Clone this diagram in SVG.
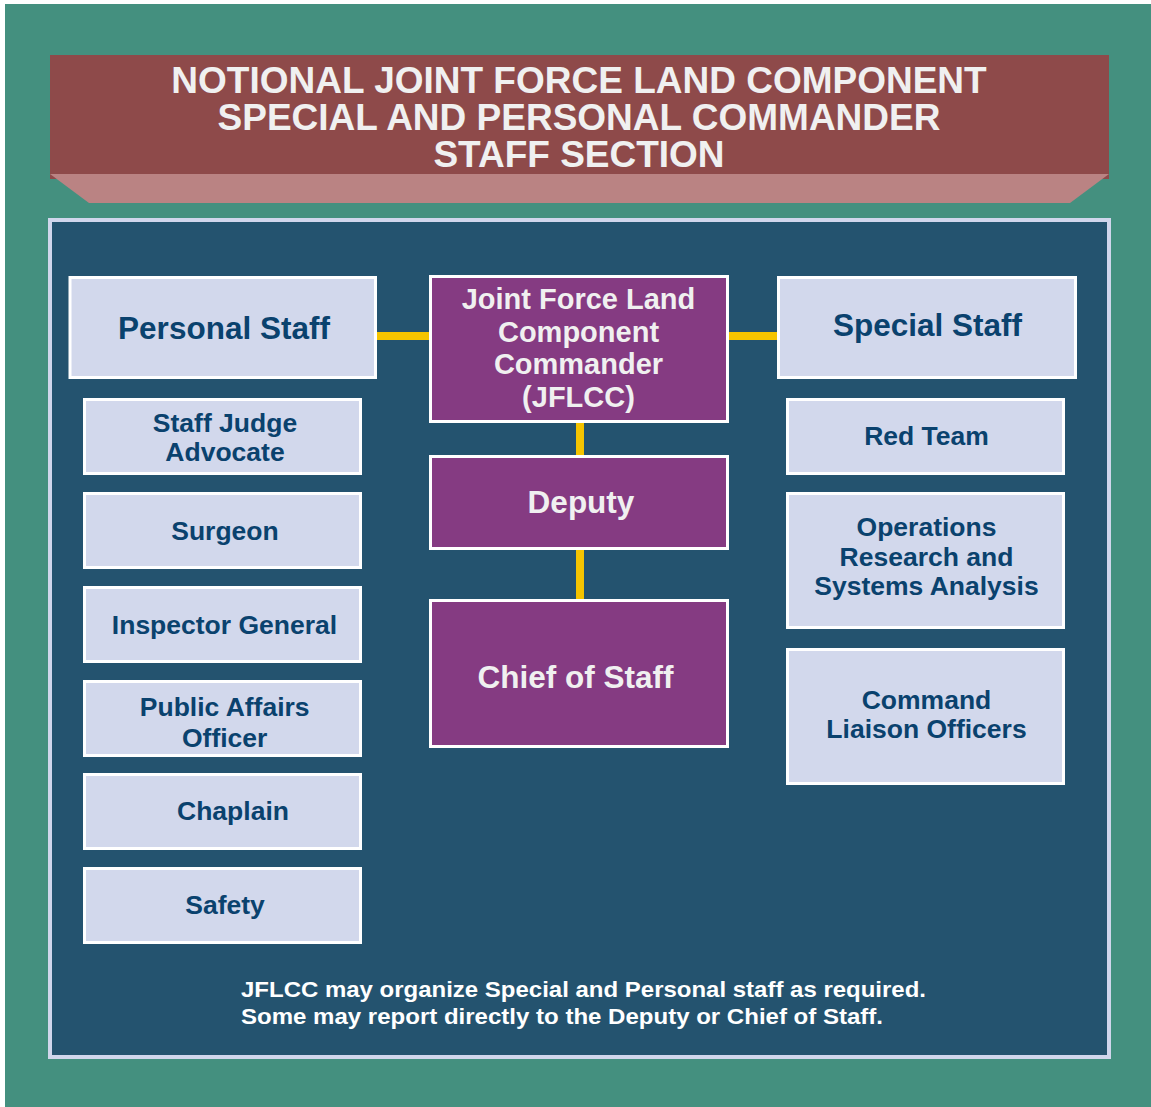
<svg xmlns="http://www.w3.org/2000/svg" width="1151" height="1107" viewBox="0 0 1151 1107">
  <style>
    .lt { fill: #D2D8EC; stroke: #FFFFFF; stroke-width: 3; }
    .pu { fill: #853B82; stroke: #FFFFFF; stroke-width: 3; }
    .nt { font-family: "Liberation Sans", Arial, sans-serif; font-weight: bold; fill: #0A426E; text-anchor: middle; }
    .wt { font-family: "Liberation Sans", Arial, sans-serif; font-weight: bold; fill: #F0F0F0; text-anchor: middle; }
    .s26 { font-size: 26.5px; }
    .s31 { font-size: 31.5px; }
    .s29 { font-size: 29px; }
    .conn { stroke: #F5C400; stroke-width: 8; fill: none; }
  </style>
  <rect x="0" y="0" width="1151" height="1107" fill="#FFFFFF"/>
  <rect x="5" y="4" width="1146" height="1103" fill="#44907F"/>

  <g id="title">
    <rect x="50" y="55" width="1059" height="124" fill="#8E4A4A"/>
    <polygon points="50,174 1109,174 1070,203 89,203" fill="#BA8383"/>
    <text class="wt" x="579" y="93" font-size="37" fill="#EEEEEE">NOTIONAL JOINT FORCE LAND COMPONENT</text>
    <text class="wt" x="579" y="130" font-size="37" fill="#EEEEEE">SPECIAL AND PERSONAL COMMANDER</text>
    <text class="wt" x="579" y="167" font-size="37" fill="#EEEEEE">STAFF SECTION</text>
  </g>

  <rect x="50" y="220" width="1059" height="837" fill="#24536F" stroke="#D0D6EC" stroke-width="4"/>

  <g id="connectors">
    <line class="conn" x1="377" y1="336" x2="430" y2="336"/>
    <line class="conn" x1="728" y1="336" x2="778" y2="336"/>
    <line class="conn" x1="580" y1="422" x2="580" y2="456"/>
    <line class="conn" x1="580" y1="549" x2="580" y2="600"/>
  </g>

  <g id="personal-staff">
    <rect class="lt" x="70" y="277.5" width="305.5" height="100"/>
    <text class="nt s31" x="224" y="339">Personal Staff</text>
  </g>
  <g id="jflcc">
    <rect class="pu" x="430.5" y="276.5" width="297" height="145"/>
    <text class="wt s29" x="578.5" y="308.5">Joint Force Land</text>
    <text class="wt s29" x="578.5" y="341.5">Component</text>
    <text class="wt s29" x="578.5" y="374">Commander</text>
    <text class="wt s29" x="578.5" y="406.5">(JFLCC)</text>
  </g>
  <g id="special-staff">
    <rect class="lt" x="778.5" y="277.5" width="297" height="100"/>
    <text class="nt s31" x="927.5" y="336">Special Staff</text>
  </g>
  <g id="deputy">
    <rect class="pu" x="430.5" y="456.5" width="297" height="92"/>
    <text class="wt s31" x="581" y="512.5">Deputy</text>
  </g>
  <g id="chief-of-staff">
    <rect class="pu" x="430.5" y="600.5" width="297" height="146"/>
    <text class="wt s31" x="575.5" y="687.5">Chief of Staff</text>
  </g>

  <g id="staff-judge-advocate">
    <rect class="lt" x="84.5" y="399.5" width="276" height="74"/>
    <text class="nt s26" x="225" y="431.5">Staff Judge</text>
    <text class="nt s26" x="225" y="461">Advocate</text>
  </g>
  <g id="surgeon">
    <rect class="lt" x="84.5" y="493.5" width="276" height="74"/>
    <text class="nt s26" x="225" y="539.5">Surgeon</text>
  </g>
  <g id="inspector-general">
    <rect class="lt" x="84.5" y="587.5" width="276" height="74"/>
    <text class="nt s26" x="224.5" y="633.5">Inspector General</text>
  </g>
  <g id="public-affairs-officer">
    <rect class="lt" x="84.5" y="681.5" width="276" height="74"/>
    <text class="nt s26" x="224.7" y="716">Public Affairs</text>
    <text class="nt s26" x="224.7" y="746.5">Officer</text>
  </g>
  <g id="chaplain">
    <rect class="lt" x="84.5" y="774.5" width="276" height="74"/>
    <text class="nt s26" x="233" y="820">Chaplain</text>
  </g>
  <g id="safety">
    <rect class="lt" x="84.5" y="868.5" width="276" height="74"/>
    <text class="nt s26" x="225" y="913.5">Safety</text>
  </g>

  <g id="red-team">
    <rect class="lt" x="787.5" y="399.5" width="276" height="74"/>
    <text class="nt s26" x="926.5" y="445">Red Team</text>
  </g>
  <g id="operations-research">
    <rect class="lt" x="787.5" y="493.5" width="276" height="134"/>
    <text class="nt s26" x="926.5" y="535.5">Operations</text>
    <text class="nt s26" x="926.5" y="565.5">Research and</text>
    <text class="nt s26" x="926.5" y="595">Systems Analysis</text>
  </g>
  <g id="command-liaison-officers">
    <rect class="lt" x="787.5" y="649.5" width="276" height="134"/>
    <text class="nt s26" x="926.5" y="708.5">Command</text>
    <text class="nt s26" x="926.5" y="738">Liaison Officers</text>
  </g>

  <g id="footer" font-family="Liberation Sans, Arial, sans-serif" font-weight="bold" font-size="22" fill="#FFFFFF">
    <text x="241" y="997" textLength="685" lengthAdjust="spacingAndGlyphs">JFLCC may organize Special and Personal staff as required.</text>
    <text x="241" y="1024" textLength="642" lengthAdjust="spacingAndGlyphs">Some may report directly to the Deputy or Chief of Staff.</text>
  </g>
</svg>
